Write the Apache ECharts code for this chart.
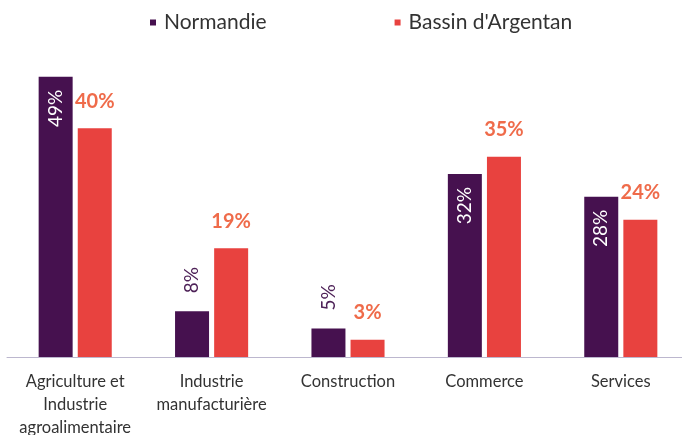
<!DOCTYPE html>
<html>
<head>
<meta charset="utf-8">
<script src="https://cdn.jsdelivr.net/npm/echarts@6/dist/echarts.min.js"></script>
<style>
  html, body { margin: 0; padding: 0; background: #fff; }
  #chart { width: 682px; height: 435px; }
</style>
</head>
<body>
<div id="chart"></div>
<script>
  // secteurs et parts (%)
  const categories = ['Agriculture et\nIndustrie\nagroalimentaire', 'Industrie\nmanufacturière', 'Construction', 'Commerce', 'Services']
  const normandie = [49, 8, 5, 32, 28]
  const argentan = [40, 19, 3, 35, 24]

  const purple = '#46114F'
  const red = '#E8423F'
  const font = 'Lato'

  // grandes barres : étiquette blanche dans la barre, petites : au-dessus
  const normData = normandie.map(v => {
    const inside = v > 15
    return {
      value: v,
      label: inside
        ? { position: 'insideTop', align: 'right', verticalAlign: 'middle', distance: 13, color: '#fff' }
        : { position: 'top', align: 'left', verticalAlign: 'middle', distance: 18, color: '#4E2258' }
    }
  })

  const chart = echarts.init(document.getElementById('chart'))
  chart.setOption({
    animation: false,
    textStyle: { fontFamily: font },
    legend: {
      top: 12,
      left: 150,
      padding: 0,
      itemGap: 128,
      icon: 'rect',
      itemWidth: 6,
      itemHeight: 6,
      textStyle: { fontSize: 21, color: '#333', fontFamily: font, padding: [0, 0, 0, 3] }
    },
    // la dernière catégorie déborde un peu à droite
    grid: { left: 7, width: 682, top: 71, bottom: 78, outerBoundsMode: 'none' },
    xAxis: {
      type: 'category',
      data: categories,
      offset: 6,
      axisLine: { lineStyle: { color: '#BCB7CE' } },
      axisTick: { length: 7, lineStyle: { color: '#BCB7CE' } },
      axisLabel: { fontSize: 16.5, color: '#333', lineHeight: 23, margin: 7, fontFamily: font, interval: 0 }
    },
    yAxis: { type: 'value', min: 0, max: 50, show: false },
    series: [
      {
        name: 'Normandie',
        type: 'bar',
        data: normData,
        barWidth: 34,
        barGap: '15%',
        itemStyle: { color: purple },
        label: {
          show: true,
          rotate: 90,
          fontSize: 19,
          fontFamily: font,
          formatter: '{c}%'
        }
      },
      {
        name: "Bassin d'Argentan",
        type: 'bar',
        data: argentan,
        barWidth: 34,
        itemStyle: { color: red },
        label: {
          show: true,
          position: 'top',
          distance: 17,
          fontSize: 20,
          fontWeight: 'bold',
          color: '#EF6B4A',
          fontFamily: font,
          formatter: '{c}%'
        }
      }
    ]
  })
</script>
</body>
</html>
